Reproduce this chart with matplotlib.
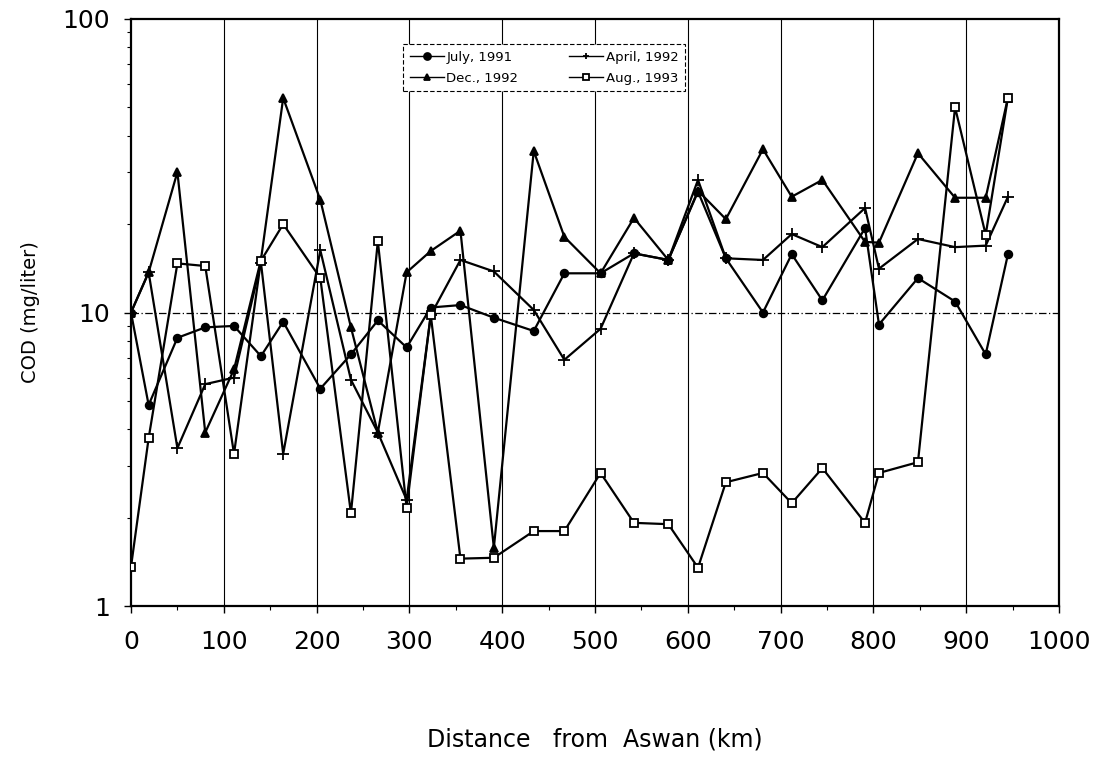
"""COD along the Nile downstream of Aswan, four sampling campaigns (log scale)."""

import matplotlib

matplotlib.use("Agg")

import matplotlib.pyplot as plt  # noqa: E402
from matplotlib.ticker import FixedLocator, FuncFormatter, LogLocator, NullFormatter  # noqa: E402

# sampling stations, km downstream of Aswan
distance_km = [0, 19, 50, 80, 111, 140, 164, 204, 237, 266,
               297, 323, 355, 391, 434, 467, 506, 542, 579, 611,
               641, 681, 712, 745, 791, 806, 848, 888, 921, 945]

# COD, mg/liter
cod_jul_1991 = [10, 4.84, 8.2, 8.9, 9.0, 7.1, 9.3, 5.5, 7.2, 9.4,
                7.6, 10.4, 10.6, 9.6, 8.65, 13.6, 13.6, 15.9, 15.1, 25.8,
                15.3, 10.0, 15.8, 11.0, 19.4, 9.1, 13.1, 10.9, 7.2, 15.8]
cod_apr_1992 = [10, 13.7, 3.45, 5.7, 6.0, 14.8, 3.3, 16.3, 5.9, 3.9,
                2.3, 9.8, 15.1, 13.8, 10.2, 6.9, 8.8, 15.9, 15.1, 28.3,
                15.3, 15.1, 18.5, 16.7, 22.7, 14.1, 17.8, 16.7, 16.9, 24.8]
cod_dec_1992 = [10, 13.7, 30.1, 3.9, 6.4, 15.1, 53.8, 24.2, 8.9, 3.9,
                13.7, 16.2, 19.0, 1.58, 35.5, 18.1, 13.6, 21.0, 15.1, 26.0,
                20.8, 36.0, 24.8, 28.3, 17.4, 17.3, 34.9, 24.6, 24.6, 54.0]
cod_aug_1993 = [1.36, 3.73, 14.7, 14.4, 3.3, 15.0, 20.0, 13.1, 2.07, 17.5,
                2.16, 9.8, 1.45, 1.46, 1.80, 1.80, 2.84, 1.92, 1.90, 1.35,
                2.64, 2.84, 2.24, 2.95, 1.92, 2.84, 3.09, 50.0, 18.4, 54.0]

# legend fills column-wise, so this order gives July/April on top, Dec/Aug below
series = [
    ("July, 1991", cod_jul_1991, "o", "black"),
    ("Dec., 1992", cod_dec_1992, "^", "black"),
    ("April, 1992", cod_apr_1992, "+", "black"),
    ("Aug., 1993", cod_aug_1993, "s", "white"),
]

x_ticks = [0, 100, 200, 300, 400, 500, 600, 700, 800, 900, 1000]

plt.rcParams["font.family"] = ["DejaVu Sans"]

fig = plt.figure(figsize=(11.01, 7.57), dpi=100)
ax = fig.add_axes([131 / 1101, 151 / 757, 928 / 1101, 587 / 757])

for label, values, marker, face in series:
    ax.plot(
        distance_km, values,
        color="black", linewidth=1.6,
        marker=marker, markersize=5.5 if marker != "+" else 9,
        markerfacecolor=face, markeredgecolor="black", markeredgewidth=1.3,
        label=label, zorder=3,
    )

ax.set_yscale("log")
ax.set_ylim(1, 100)
ax.set_xlim(0, 1000)

ax.xaxis.set_major_locator(FixedLocator(x_ticks))
ax.xaxis.set_minor_locator(FixedLocator([t + 50 for t in x_ticks[:-1]]))
ax.yaxis.set_major_locator(FixedLocator([1, 10, 100]))
ax.yaxis.set_minor_locator(LogLocator(base=10, subs=range(2, 10)))
ax.yaxis.set_major_formatter(FuncFormatter(lambda v, _: f"{v:g}"))
ax.yaxis.set_minor_formatter(NullFormatter())

ax.tick_params(axis="both", which="major", direction="out", length=5, width=1,
               labelsize=18, pad=10)
ax.tick_params(axis="both", which="minor", direction="out", length=3, width=0.8)
ax.tick_params(axis="x", which="major", pad=12)

for t in x_ticks[1:-1]:
    ax.axvline(t, color="black", linewidth=0.8, zorder=1)
ax.axhline(10, color="black", linewidth=0.9, linestyle=(0, (6, 2, 1, 2)), zorder=1)

for spine in ax.spines.values():
    spine.set_linewidth(1.6)

fig.text(595 / 1101, 1 - 747 / 757, "Distance   from  Aswan (km)",
         ha="center", va="baseline", fontsize=17)
fig.text(30 / 1101, 1 - 312 / 757, "COD (mg/liter)", rotation=90,
         ha="center", va="center", fontsize=14)

leg = ax.legend(
    loc="upper left", bbox_to_anchor=(0.293, 0.957), ncol=2,
    fontsize=9.5, frameon=True, fancybox=False, handlelength=2.6,
    columnspacing=3.8, borderpad=0.5, labelspacing=0.6, handletextpad=0.2,
    borderaxespad=0,
)
frame = leg.get_frame()
frame.set_edgecolor("black")
frame.set_linewidth(0.8)
frame.set_linestyle((0, (4, 2)))
frame.set_alpha(1)
for line in leg.get_lines():
    line.set_linewidth(1.0)
    line.set_markersize(5)

fig.savefig("out.png", dpi=100)
plt.close(fig)
